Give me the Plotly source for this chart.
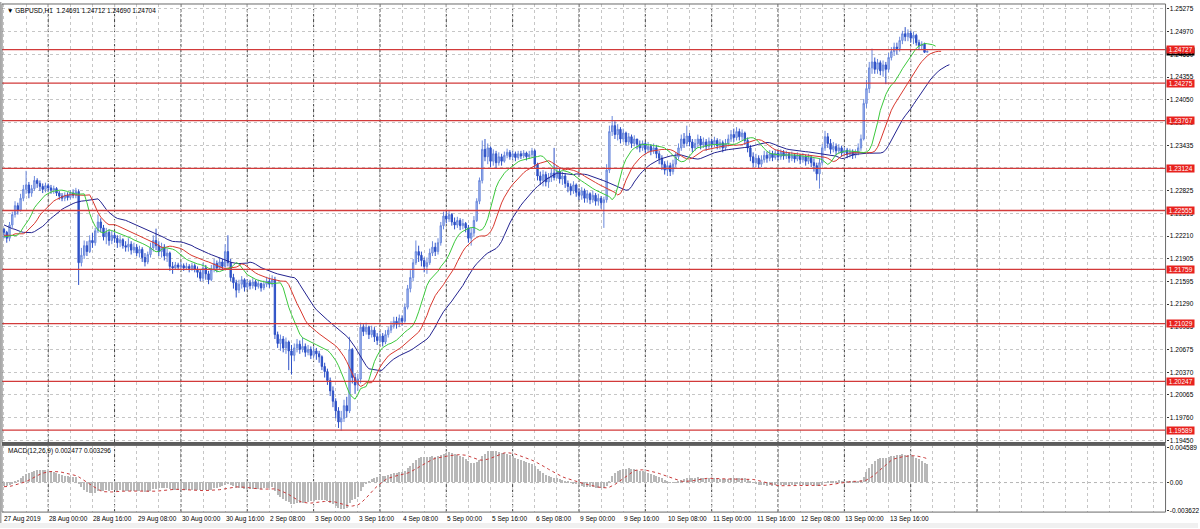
import numpy as np
import plotly.graph_objects as go

W, H = 1200, 529
FONT = "Liberation Sans"


def px_x(p):
    return p / W


def px_y(p):
    return 1 - p / H


# ---------------- data (GBPUSD H1) ----------------
first_open = 1.2230

close = [
    # 27 Aug 08:00-23:00
    1.2226, 1.2218, 1.2236, 1.2250, 1.2262, 1.2256, 1.2272, 1.2284, 1.2290, 1.2279, 1.2285, 1.2296, 1.2292, 1.2288, 1.2284, 1.2289,
    # 28 Aug
    1.2286, 1.2283, 1.2285, 1.2279, 1.2275, 1.2272, 1.2276, 1.2273, 1.2279, 1.2276, 1.2281, 1.2185, 1.2195, 1.2208, 1.2200, 1.2215, 1.2212, 1.2228, 1.2240, 1.2232, 1.2220, 1.2226, 1.2215, 1.2222,
    # 29 Aug
    1.2218, 1.2212, 1.2216, 1.2208, 1.2206, 1.2210, 1.2202, 1.2206, 1.2198, 1.2203, 1.2192, 1.2186, 1.2196, 1.2205, 1.2215, 1.2208, 1.2200, 1.2206, 1.2194, 1.2198, 1.2180, 1.2178, 1.2182, 1.2179,
    # 30 Aug
    1.2181, 1.2178, 1.2180, 1.2177, 1.2181, 1.2176, 1.2172, 1.2164, 1.2178, 1.2170, 1.2162, 1.2176, 1.2184, 1.2178, 1.2186, 1.2180, 1.2200, 1.2185, 1.2165, 1.2158, 1.2148, 1.2156, 1.2162, 1.2152,
    # 2 Sep
    1.2158, 1.2154, 1.2159, 1.2153, 1.2157, 1.2151, 1.2156, 1.2160, 1.2156, 1.2162, 1.2088, 1.2076, 1.2082, 1.2070, 1.2078, 1.2066, 1.2060, 1.2070, 1.2075, 1.2068, 1.2072, 1.2064, 1.2068, 1.2060,
    # 3 Sep
    1.2066, 1.2062, 1.2058, 1.2045, 1.2038, 1.2026, 1.2012, 1.1998, 1.1985, 1.1970, 1.1975, 1.1992, 1.1985, 1.2068, 1.2030, 1.2020, 1.2028, 1.2098, 1.2092, 1.2098, 1.2088, 1.2094, 1.2085, 1.2080,
    # 4 Sep
    1.2086, 1.2078, 1.2088, 1.2094, 1.2100, 1.2106, 1.2102, 1.2110, 1.2106, 1.2125, 1.2150, 1.2165, 1.2185, 1.2200, 1.2195, 1.2188, 1.2180, 1.2185, 1.2198, 1.2206, 1.2200, 1.2212, 1.2235, 1.2248,
    # 5 Sep
    1.2244, 1.2250, 1.2240, 1.2236, 1.2242, 1.2235, 1.2238, 1.2232, 1.2218, 1.2225, 1.2242, 1.2268, 1.2296, 1.2338, 1.2328, 1.2340, 1.2322, 1.2332, 1.2320, 1.2328, 1.2322, 1.2330, 1.2334, 1.2328,
    # 6 Sep
    1.2332, 1.2327, 1.2332, 1.2329, 1.2333, 1.2328, 1.2331, 1.2336, 1.2318, 1.2302, 1.2296, 1.2304, 1.2294, 1.2300, 1.2306, 1.2300, 1.2308, 1.2298, 1.2302, 1.2292, 1.2288, 1.2282, 1.2290, 1.2280,
    # 9 Sep
    1.2276, 1.2282, 1.2272, 1.2278, 1.2270, 1.2276, 1.2268, 1.2272, 1.2266, 1.2270, 1.2310, 1.2362, 1.2370, 1.2358, 1.2365, 1.2352, 1.2360, 1.2348, 1.2355, 1.2346, 1.2352, 1.2345, 1.2340, 1.2346,
    # 10 Sep
    1.2338, 1.2342, 1.2336, 1.2340, 1.2332, 1.2326, 1.2318, 1.2310, 1.2316, 1.2308, 1.2318, 1.2328, 1.2340, 1.2352, 1.2346, 1.2356, 1.2348, 1.2340, 1.2346, 1.2352, 1.2344, 1.2348, 1.2342, 1.2349,
    # 11 Sep
    1.2345, 1.2350, 1.2343, 1.2347, 1.2340, 1.2346, 1.2352, 1.2358, 1.2354, 1.2362, 1.2355, 1.2360, 1.2350, 1.2340, 1.2328, 1.2320, 1.2326, 1.2318, 1.2324, 1.2330, 1.2326, 1.2332, 1.2327, 1.2333,
    # 12 Sep
    1.2328, 1.2334, 1.2329, 1.2332, 1.2326, 1.2330, 1.2325, 1.2330, 1.2324, 1.2328, 1.2322, 1.2327, 1.2320, 1.2316, 1.2305, 1.2320, 1.2340, 1.2355, 1.2346, 1.2338, 1.2342, 1.2336, 1.2340, 1.2333,
    # 13 Sep
    1.2337, 1.2331, 1.2335, 1.2330, 1.2334, 1.2340, 1.2352, 1.2400, 1.2420, 1.2448, 1.2456, 1.2446, 1.2455, 1.2444, 1.2452, 1.2446, 1.2462, 1.2470, 1.2476, 1.2474, 1.2485, 1.2494, 1.2490, 1.2495,
    # 16 Sep 00:00-06:00
    1.2488, 1.2492, 1.2482, 1.2478, 1.2480, 1.24691, 1.24704,
]

high = [
    1.2232, 1.2228, 1.2240, 1.2254, 1.2268, 1.2266, 1.2278, 1.2290, 1.2309, 1.2294, 1.2290, 1.2302, 1.2299, 1.2296, 1.2292, 1.2293,
    1.2292, 1.2290, 1.2289, 1.2287, 1.2282, 1.2279, 1.2280, 1.2280, 1.2283, 1.2284, 1.2286, 1.2284, 1.2205, 1.2215, 1.2214, 1.2222, 1.2225, 1.2232, 1.2250, 1.2245, 1.2236, 1.2232, 1.2230, 1.2228,
    1.2226, 1.2222, 1.2222, 1.2218, 1.2214, 1.2218, 1.2214, 1.2212, 1.2210, 1.2208, 1.2206, 1.2198, 1.2200, 1.2212, 1.2222, 1.2231, 1.2214, 1.2212, 1.2210, 1.2204, 1.2200, 1.2186, 1.2186, 1.2185,
    1.2186, 1.2184, 1.2185, 1.2183, 1.2185, 1.2184, 1.2180, 1.2176, 1.2185, 1.2182, 1.2174, 1.2182, 1.2190, 1.2188, 1.2192, 1.2190, 1.2210, 1.2222, 1.2190, 1.2170, 1.2162, 1.2162, 1.2167, 1.2164,
    1.2163, 1.2162, 1.2164, 1.2162, 1.2162, 1.2158, 1.2161, 1.2166, 1.2165, 1.2168, 1.2166, 1.2092, 1.2088, 1.2086, 1.2084, 1.2080, 1.2074, 1.2076, 1.2082, 1.2080, 1.2084, 1.2076, 1.2074, 1.2072,
    1.2072, 1.2070, 1.2066, 1.2060, 1.2050, 1.2042, 1.2030, 1.2018, 1.2002, 1.1990, 1.1985, 1.2000, 1.2004, 1.2085, 1.2070, 1.2036, 1.2035, 1.2104, 1.2102, 1.2104, 1.2100, 1.2100, 1.2098, 1.2090,
    1.2092, 1.2090, 1.2094, 1.2098, 1.2106, 1.2112, 1.2112, 1.2115, 1.2114, 1.2130, 1.2155, 1.2175, 1.2190, 1.2215, 1.2208, 1.2200, 1.2192, 1.2192, 1.2204, 1.2214, 1.2212, 1.2218, 1.2240, 1.2254,
    1.2254, 1.2255, 1.2252, 1.2246, 1.2247, 1.2245, 1.2244, 1.2240, 1.2236, 1.2232, 1.2248, 1.2272, 1.2300, 1.2350, 1.2352, 1.2346, 1.2342, 1.2338, 1.2336, 1.2334, 1.2332, 1.2335, 1.2339, 1.2337,
    1.2336, 1.2335, 1.2336, 1.2336, 1.2337, 1.2335, 1.2336, 1.2340, 1.2338, 1.2320, 1.2308, 1.2310, 1.2308, 1.2306, 1.2312, 1.2340, 1.2316, 1.2312, 1.2308, 1.2306, 1.2296, 1.2292, 1.2295, 1.2292,
    1.2286, 1.2287, 1.2285, 1.2283, 1.2280, 1.2282, 1.2279, 1.2278, 1.2275, 1.2274, 1.2318, 1.2370, 1.2383, 1.2376, 1.2372, 1.2368, 1.2366, 1.2362, 1.2360, 1.2358, 1.2357, 1.2352, 1.2350, 1.2350,
    1.2348, 1.2348, 1.2345, 1.2346, 1.2344, 1.2336, 1.2330, 1.2322, 1.2322, 1.2320, 1.2324, 1.2334, 1.2346, 1.2358, 1.2360, 1.2370, 1.2360, 1.2352, 1.2352, 1.2358, 1.2356, 1.2354, 1.2352, 1.2354,
    1.2352, 1.2355, 1.2353, 1.2352, 1.2350, 1.2352, 1.2358, 1.2364, 1.2366, 1.2368, 1.2366, 1.2365, 1.2362, 1.2354, 1.2344, 1.2334, 1.2332, 1.2330, 1.2330, 1.2336, 1.2335, 1.2337, 1.2336, 1.2338,
    1.2336, 1.2338, 1.2337, 1.2336, 1.2334, 1.2335, 1.2333, 1.2334, 1.2332, 1.2333, 1.2331, 1.2332, 1.2330, 1.2326, 1.2320, 1.2326, 1.2345, 1.2363, 1.2360, 1.2352, 1.2348, 1.2346, 1.2345, 1.2343,
    1.2341, 1.2340, 1.2339, 1.2338, 1.2338, 1.2346, 1.2358, 1.2406, 1.2432, 1.2456, 1.2474, 1.2462, 1.2460, 1.2458, 1.2458, 1.2456, 1.2468, 1.2476, 1.2482, 1.2482, 1.2490, 1.2498, 1.2503, 1.2500,
    1.2498, 1.2497, 1.2494, 1.2486, 1.2484, 1.2482, 1.24712,
]

low = [
    1.2218, 1.2212, 1.2214, 1.2232, 1.2246, 1.2250, 1.2254, 1.2268, 1.2278, 1.2272, 1.2274, 1.2282, 1.2286, 1.2282, 1.2279, 1.2280,
    1.2281, 1.2278, 1.2278, 1.2275, 1.2270, 1.2268, 1.2268, 1.2269, 1.2270, 1.2272, 1.2272, 1.2155, 1.2180, 1.2190, 1.2194, 1.2198, 1.2205, 1.2208, 1.2225, 1.2226, 1.2215, 1.2210, 1.2208, 1.2210,
    1.2212, 1.2205, 1.2206, 1.2204, 1.2200, 1.2200, 1.2196, 1.2198, 1.2194, 1.2192, 1.2186, 1.2180, 1.2183, 1.2192, 1.2200, 1.2202, 1.2194, 1.2192, 1.2188, 1.2186, 1.2174, 1.2170, 1.2176, 1.2175,
    1.2176, 1.2174, 1.2175, 1.2172, 1.2174, 1.2172, 1.2165, 1.2160, 1.2160, 1.2162, 1.2156, 1.2160, 1.2172, 1.2172, 1.2175, 1.2174, 1.2178, 1.2180, 1.2160, 1.2150, 1.2138, 1.2144, 1.2150, 1.2146,
    1.2148, 1.2149, 1.2150, 1.2148, 1.2150, 1.2146, 1.2148, 1.2152, 1.2151, 1.2152, 1.2082, 1.2070, 1.2066, 1.2064, 1.2062, 1.2040, 1.2034, 1.2052, 1.2064, 1.2062, 1.2064, 1.2058, 1.2060, 1.2055,
    1.2056, 1.2054, 1.2050, 1.2040, 1.2030, 1.2020, 1.2005, 1.1990, 1.1975, 1.1962, 1.1958, 1.1970, 1.1976, 1.1982, 1.2022, 1.2008, 1.2012, 1.2022, 1.2086, 1.2088, 1.2082, 1.2084, 1.2078, 1.2074,
    1.2076, 1.2072, 1.2075, 1.2084, 1.2090, 1.2096, 1.2096, 1.2098, 1.2100, 1.2104, 1.2122, 1.2145, 1.2160, 1.2182, 1.2186, 1.2180, 1.2172, 1.2170, 1.2182, 1.2194, 1.2194, 1.2196, 1.2208, 1.2230,
    1.2238, 1.2240, 1.2235, 1.2230, 1.2232, 1.2229, 1.2230, 1.2226, 1.2212, 1.2208, 1.2220, 1.2240, 1.2264, 1.2292, 1.2322, 1.2318, 1.2314, 1.2316, 1.2312, 1.2316, 1.2316, 1.2320, 1.2326, 1.2324,
    1.2324, 1.2322, 1.2324, 1.2325, 1.2326, 1.2323, 1.2325, 1.2327, 1.2312, 1.2296, 1.2290, 1.2288, 1.2288, 1.2286, 1.2294, 1.2296, 1.2298, 1.2292, 1.2290, 1.2286, 1.2280, 1.2276, 1.2278, 1.2274,
    1.2270, 1.2270, 1.2266, 1.2266, 1.2264, 1.2266, 1.2262, 1.2262, 1.2258, 1.2232, 1.2266, 1.2306, 1.2356, 1.2352, 1.2350, 1.2346, 1.2348, 1.2343, 1.2344, 1.2340, 1.2342, 1.2338, 1.2334, 1.2336,
    1.2332, 1.2334, 1.2330, 1.2332, 1.2326, 1.2318, 1.2310, 1.2304, 1.2302, 1.2302, 1.2304, 1.2314, 1.2324, 1.2336, 1.2340, 1.2342, 1.2342, 1.2334, 1.2336, 1.2340, 1.2338, 1.2340, 1.2336, 1.2338,
    1.2340, 1.2341, 1.2338, 1.2338, 1.2334, 1.2336, 1.2342, 1.2348, 1.2348, 1.2350, 1.2350, 1.2350, 1.2344, 1.2334, 1.2322, 1.2314, 1.2314, 1.2312, 1.2314, 1.2320, 1.2320, 1.2322, 1.2322, 1.2324,
    1.2323, 1.2324, 1.2324, 1.2325, 1.2320, 1.2322, 1.2320, 1.2322, 1.2318, 1.2320, 1.2316, 1.2318, 1.2314, 1.2308, 1.2296, 1.2285, 1.2316, 1.2336, 1.2340, 1.2332, 1.2334, 1.2330, 1.2332, 1.2328,
    1.2329, 1.2326, 1.2327, 1.2325, 1.2326, 1.2330, 1.2336, 1.2350, 1.2394, 1.2414, 1.2440, 1.2440, 1.2440, 1.2438, 1.2436, 1.2426, 1.2442, 1.2458, 1.2464, 1.2466, 1.2470, 1.2480, 1.2484, 1.2484,
    1.2482, 1.2480, 1.2478, 1.2472, 1.2473, 1.2468, 1.24690,
]

levels = [1.24727, 1.24275, 1.23767, 1.23124, 1.22555, 1.21759, 1.21029, 1.20247, 1.19589]
bid_price = 1.24704

price_ticks = [1.25275, 1.24970, 1.24660, 1.24355, 1.24050, 1.23740, 1.23435, 1.23130, 1.22825, 1.22515,
               1.22210, 1.21905, 1.21595, 1.21290, 1.20985, 1.20675, 1.20370, 1.20065, 1.19760, 1.19450]

time_labels = ["27 Aug 2019", "28 Aug 00:00", "28 Aug 16:00", "29 Aug 08:00", "30 Aug 00:00", "30 Aug 16:00",
               "2 Sep 08:00", "3 Sep 00:00", "3 Sep 16:00", "4 Sep 08:00", "5 Sep 00:00", "5 Sep 16:00",
               "6 Sep 08:00", "9 Sep 00:00", "9 Sep 16:00", "10 Sep 08:00", "11 Sep 00:00", "11 Sep 16:00",
               "12 Sep 08:00", "13 Sep 00:00", "13 Sep 16:00"]
time_label_bars = [0, 16, 32, 48, 64, 80, 96, 112, 128, 144, 160, 176, 192, 208, 224, 240, 256, 272, 288, 304, 320]
day_separator_bars = [16, 40, 64, 88, 112, 136, 160, 184, 208, 232, 256, 280, 304, 328, 352]

# Alligator values visible at the left edge (before the first computed point)
jaw_head = [1.2236, 1.2234, 1.2233, 1.2231, 1.2230, 1.2228, 1.2227, 1.2226]
teeth_head = [1.2222, 1.2222, 1.2221, 1.2222, 1.2224]
lips_head = [1.2220, 1.2220, 1.2221]

ema_fast_seed, ema_slow_seed = 1.2224, 1.2230
macd_ticks = [0.004589, 0.0, -0.003622]
macd_ticktext = ["0.004589", "0.00", "-0.003622"]

header_text = "▼ GBPUSD,H1  1.24691 1.24712 1.24690 1.24704"
macd_text = "MACD(12,26,9) 0.002477 0.003296"

# ---------------- derived ----------------
assert len(close) == len(high) == len(low)
c = np.array(close)
o = np.concatenate([[first_open], c[:-1]])
h = np.maximum(np.array(high), np.maximum(o, c))
l = np.minimum(np.array(low), np.minimum(o, c))
n = len(c)
idx = np.arange(n)


def smma(vals, period, seed):
    out, s = [], seed
    for v in vals:
        s = (s * (period - 1) + v) / period
        out.append(s)
    return np.array(out)


def ema(vals, period, seed):
    a = 2.0 / (period + 1)
    out, e = [], seed
    for v in vals:
        e = e + a * (v - e)
        out.append(e)
    return np.array(out)


med = (h + l) / 2
jaw = smma(med, 13, jaw_head[-1])
teeth = smma(med, 8, teeth_head[-1])
lips = smma(med, 5, lips_head[-1])

macd = ema(c, 12, ema_fast_seed) - ema(c, 26, ema_slow_seed)
signal = np.array([macd[max(0, i - 8):i + 1].mean() for i in range(n)])

# ---------------- layout geometry ----------------
X_LEFT, X_RIGHT = 2.0, 1167.5
BAR0, BAR_PX = 4.0, 2.769
MAIN_TOP, MAIN_BOT = 2.0, 443.0
MACD_TOP, MACD_BOT = 446.0, 513.0
PX_PER_PRICE = 7451.0
P_AT_7 = 1.25275

x_range = [(X_LEFT - BAR0) / BAR_PX, (X_RIGHT - BAR0) / BAR_PX]
y_range = [P_AT_7 - (MAIN_BOT - 7) / PX_PER_PRICE, P_AT_7 + (7 - MAIN_TOP) / PX_PER_PRICE]
M_SCALE, M_ZERO = 7692.0, 483.3
y2_range = [-(MACD_BOT - M_ZERO) / M_SCALE, (M_ZERO - MACD_TOP) / M_SCALE]

xdom = [px_x(X_LEFT), px_x(X_RIGHT)]

fig = go.Figure()

fig.add_trace(go.Candlestick(
    x=idx, open=o, high=h, low=l, close=c,
    increasing=dict(line=dict(color="#6a88dc", width=1), fillcolor="#b3c4f0"),
    decreasing=dict(line=dict(color="#2d50c6", width=1), fillcolor="#2d50c6"),
    whiskerwidth=0, hoverinfo="skip", xaxis="x", yaxis="y",
))

fig.add_trace(go.Scatter(x=np.concatenate([np.arange(len(jaw_head)), idx + 8]),
                         y=np.concatenate([jaw_head, jaw]), mode="lines",
                         line=dict(color="#23238f", width=1), hoverinfo="skip", xaxis="x", yaxis="y"))
fig.add_trace(go.Scatter(x=np.concatenate([np.arange(len(teeth_head)), idx + 5]),
                         y=np.concatenate([teeth_head, teeth]), mode="lines",
                         line=dict(color="#d8382e", width=1), hoverinfo="skip", xaxis="x", yaxis="y"))
fig.add_trace(go.Scatter(x=np.concatenate([np.arange(len(lips_head)), idx + 3]),
                         y=np.concatenate([lips_head, lips]), mode="lines",
                         line=dict(color="#3cc83c", width=1), hoverinfo="skip", xaxis="x", yaxis="y"))

fig.add_trace(go.Bar(x=idx, y=macd, width=0.38, marker=dict(color="#b8b8b8", line=dict(width=0)),
                     hoverinfo="skip", xaxis="x2", yaxis="y2"))
fig.add_trace(go.Scatter(x=idx, y=signal, mode="lines",
                         line=dict(color="#c83c3c", width=1, dash="dot"),
                         hoverinfo="skip", xaxis="x2", yaxis="y2"))

shapes = []
# level lines
for lv in levels:
    shapes.append(dict(type="line", xref="paper", yref="y", x0=xdom[0], x1=xdom[1], y0=lv, y1=lv,
                       line=dict(color="#d23a3a", width=1.3), layer="above"))
# day separators
for b in day_separator_bars:
    shapes.append(dict(type="line", xref="x", yref="paper", x0=b, x1=b,
                       y0=px_y(MACD_BOT), y1=px_y(MAIN_TOP),
                       line=dict(color="#3c3c3c", width=1, dash="3px,2px"), layer="below"))
# macd zero line
shapes.append(dict(type="line", xref="paper", yref="y2", x0=xdom[0], x1=xdom[1], y0=0, y1=0,
                   line=dict(color="#b4b4b4", width=1, dash="dot"), layer="below"))
# pane borders
shapes.append(dict(type="rect", xref="paper", yref="paper", x0=xdom[0], x1=xdom[1],
                   y0=px_y(MAIN_BOT), y1=px_y(MAIN_TOP), line=dict(color="#6a6a6a", width=1)))
shapes.append(dict(type="rect", xref="paper", yref="paper", x0=xdom[0], x1=xdom[1],
                   y0=px_y(MACD_BOT), y1=px_y(MACD_TOP), line=dict(color="#6a6a6a", width=1)))
shapes.append(dict(type="rect", xref="paper", yref="paper", x0=xdom[0], x1=xdom[1],
                   y0=px_y(445.6), y1=px_y(442.4), fillcolor="#5c5c5c", line=dict(width=0)))
# window frame
shapes.append(dict(type="rect", xref="paper", yref="paper", x0=0, x1=px_x(1.5), y0=0, y1=1,
                   fillcolor="#a8a8a8", line=dict(width=0)))
shapes.append(dict(type="rect", xref="paper", yref="paper", x0=0, x1=1, y0=0, y1=px_y(524),
                   fillcolor="#f0f0f0", line=dict(width=0)))

annotations = []
annotations.append(dict(xref="paper", yref="paper", x=px_x(5), y=px_y(9), xanchor="left", yanchor="middle",
                        text=header_text, showarrow=False, font=dict(family=FONT, size=6.5, color="#000")))
annotations.append(dict(xref="paper", yref="paper", x=px_x(6), y=px_y(452), xanchor="left", yanchor="middle",
                        text=macd_text, showarrow=False, font=dict(family=FONT, size=6.5, color="#000")))
for lab, b in zip(time_labels, time_label_bars):
    annotations.append(dict(xref="x", yref="paper", x=b, y=px_y(519.5), xanchor="left", yanchor="middle",
                            xshift=-1 if b else -2, text=lab, showarrow=False,
                            font=dict(family=FONT, size=6.5, color="#000")))
annotations.append(dict(xref="paper", yref="y", x=xdom[1], y=bid_price, xanchor="left", yanchor="middle",
                        text=" %.5f " % bid_price, showarrow=False, bgcolor="#000000", borderpad=0,
                        font=dict(family=FONT, size=6.5, color="#ffffff")))
for lv in levels:
    annotations.append(dict(xref="paper", yref="y", x=xdom[1], y=lv, xanchor="left", yanchor="middle",
                            text=" %.5f " % lv, showarrow=False, bgcolor="#e8221e", borderpad=0,
                            font=dict(family=FONT, size=6.5, color="#ffffff")))

grid_common = dict(showgrid=True, gridcolor="#c6c6c6", griddash="dot", gridwidth=1,
                   tickmode="linear", tick0=0, dtick=8, showticklabels=False, ticks="",
                   zeroline=False, showline=False, fixedrange=True, range=x_range, domain=xdom)

fig.update_layout(
    width=W, height=H, autosize=False,
    margin=dict(l=0, r=0, t=0, b=0, pad=0),
    paper_bgcolor="#ffffff", plot_bgcolor="#ffffff",
    showlegend=False, bargap=0,
    xaxis=dict(anchor="y", rangeslider=dict(visible=False), **grid_common),
    xaxis2=dict(anchor="y2", matches="x", **grid_common),
    yaxis=dict(domain=[px_y(MAIN_BOT), px_y(MAIN_TOP)], range=y_range, anchor="x", side="right",
               tickmode="array", tickvals=price_ticks, ticktext=["%.5f" % v for v in price_ticks],
               showgrid=True, gridcolor="#c6c6c6", griddash="dot", gridwidth=1,
               ticks="outside", ticklen=2, tickcolor="#333", tickfont=dict(family=FONT, size=6.5, color="#000"),
               zeroline=False, showline=False, fixedrange=True),
    yaxis2=dict(domain=[px_y(MACD_BOT), px_y(MACD_TOP)], range=y2_range, anchor="x2", side="right",
                tickmode="array", tickvals=macd_ticks, ticktext=macd_ticktext, showgrid=False,
                ticks="outside", ticklen=2, tickcolor="#333", tickfont=dict(family=FONT, size=6.5, color="#000"),
                zeroline=False, showline=False, fixedrange=True),
    shapes=shapes, annotations=annotations,
)

fig.write_html("out.html", config={"displayModeBar": False},
               post_script="document.body.style.margin='0';document.body.style.overflow='hidden';")
